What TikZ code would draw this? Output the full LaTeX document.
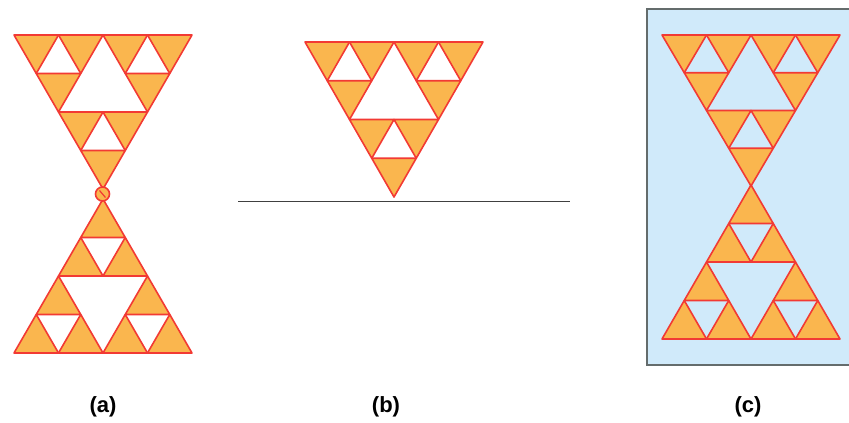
\documentclass[tikz,border=0pt]{standalone}
\usepackage{fontspec}
\setmainfont{Liberation Sans}
\definecolor{triorange}{RGB}{250,182,78}
\definecolor{trired}{RGB}{242,58,52}
\definecolor{panelblue}{RGB}{208,234,250}
\definecolor{panelgray}{RGB}{100,108,108}
\tikzset{
  tri/.style={fill=triorange, draw=trired, line width=1.6pt, line join=round},
  sierp/.pic={
    \foreach \p/\q in {0/0, 0.25/0, 0.125/0.25, 0.5/0, 0.75/0, 0.625/0.25, 0.25/0.5, 0.5/0.5, 0.375/0.75}
      \path[tri] (\p,\q) -- ++(0.25,0) -- ++(-0.125,0.25) -- cycle;
  },
  lbl/.style={font=\bfseries\fontsize{22}{25}\selectfont, inner sep=0pt},
  baseline/.style={draw=black!75, line width=1pt}
}
\begin{document}
\begin{tikzpicture}[x=1pt,y=1pt]
\useasboundingbox (0,0) rectangle (849,423);
\fill[white] (0,0) rectangle (849,423);
% panel (c) background
\fill[panelblue] (647,58) rectangle (849,414);
\draw[panelgray, line width=1.3pt] (849,414) -- (647,414) -- (647,58) -- (849,58);
% (a)
\pic[xscale=178, yscale=-154] at (14,388) {sierp};
\pic[xscale=178, yscale=154] at (14,70) {sierp};
\draw[tri] (102.5,229) circle (7);
\draw[trired, line width=1.2pt] (99.5,232.5) -- (105.5,225.5);
% (b)
\pic[xscale=178, yscale=-155] at (305,381) {sierp};
\coordinate (l1) at (238,221);
\coordinate (l2) at (570,221);
\draw[baseline] (l1) -- (l2);
% (c)
\pic[xscale=178, yscale=-151] at (662,388) {sierp};
\pic[xscale=178, yscale=154] at (662,84) {sierp};
% labels
\node[lbl] (la) at (103,16) {(a)};
\node[lbl] (lb) at (386,16) {(b)};
\node[lbl] (lc) at (748,16) {(c)};
\end{tikzpicture}
\end{document}
